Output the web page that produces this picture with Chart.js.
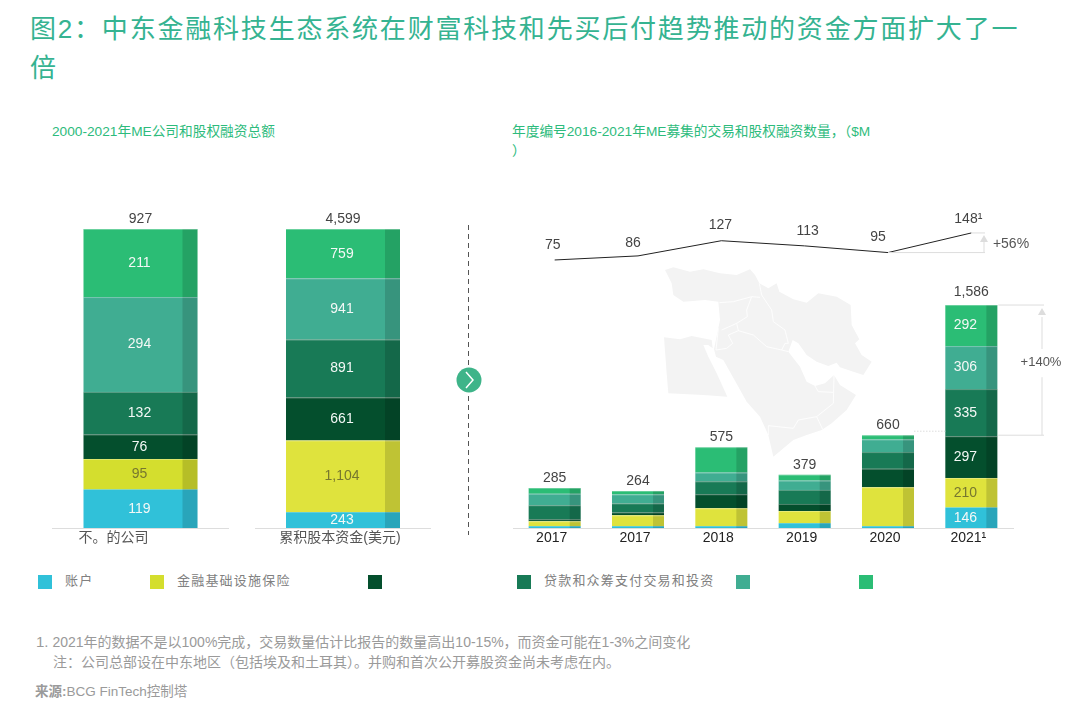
<!DOCTYPE html>
<html lang="zh">
<head>
<meta charset="utf-8">
<title>中东金融科技</title>
<script src="https://cdn.jsdelivr.net/npm/chart.js@4"></script>
<style>
html, body { margin: 0; padding: 0; background: #fff; }
body { position: relative; width: 1090px; height: 714px; overflow: hidden; font-family: "Liberation Sans", "Noto Sans CJK SC", sans-serif; }
.txt { position: absolute; white-space: nowrap; line-height: 1; }
canvas { position: absolute; }
#title { left: 30px; top: 10px; width: 1000px; white-space: normal; font-size: 26px; line-height: 39px; letter-spacing: 1.8px; color: #35b391; }
.sub { font-size: 13.7px; color: #2dbb7c; }
.note { font-size: 14px; color: #9a9a9a; }
.legend-box { position: absolute; top: 575px; width: 14px; height: 14px; }
.legend-txt { top: 574px; font-size: 13px; letter-spacing: 1.2px; color: #808080; }
</style>
</head>
<body>

<div class="txt" id="title">图2：中东金融科技生态系统在财富科技和先买后付趋势推动的资金方面扩大了一倍</div>
<div class="txt sub" style="left:52px;top:125px">2000-2021年ME公司和股权融资总额</div>
<div class="txt sub" style="left:512px;top:125px">年度编号2016-2021年ME募集的交易和股权融资数量，（$M</div>
<div class="txt sub" style="left:512px;top:144px">）</div>

<!-- map background -->
<svg style="position:absolute;left:640px;top:260px" width="320" height="210" viewBox="0 0 960 630">
  <path fill="#f3f3f3" d="M75 30 100 22 150 35 190 28 240 40 290 45 330 28 345 45 358 70 385 85 410 70 418 95 460 118 500 128 535 100 590 110 632 135 635 195 658 238 645 250 665 285 695 305 670 345 640 335 600 322 590 308 565 318 530 305 500 285 475 250 458 240 445 275 480 320 500 365 525 378 555 370 582 345 600 375 648 405 620 450 575 490 545 510 500 525 460 540 400 590 385 525 360 470 320 425 295 380 250 300 228 290 222 268 240 180 235 125 195 120 130 125 100 105 95 70Z"/>
  <path fill="#f3f3f3" d="M72 232 120 238 155 228 215 240 218 265 205 255 190 255 205 290 230 340 262 410 190 405 85 400 80 340Z"/>
  <g fill="none" stroke="#fff" stroke-width="2.5">
    <path d="M238 128 280 125 335 110 360 112"/>
    <path d="M358 70 365 105 395 150 400 185 435 210 445 250"/>
    <path d="M335 110 320 150 322 170 290 190 245 210"/>
    <path d="M290 190 295 212 265 225 278 250 260 265 228 270"/>
    <path d="M295 212 340 225 380 260 425 270 445 275"/>
    <path d="M425 270 435 250 445 250"/>
    <path d="M235 205 228 270"/>
    <path d="M385 525 385 497 460 505 475 480 530 470 580 430 582 345"/>
    <path d="M525 378 535 395 580 397"/>
    <path d="M530 470 548 508"/>
  </g>
</svg>

<!-- divider and chevron -->
<svg style="position:absolute;left:455px;top:220px" width="30" height="320">
  <line x1="13.5" y1="5" x2="13.5" y2="315" stroke="#555" stroke-dasharray="5 4"/>
  <circle cx="14" cy="160" r="12.5" fill="#3eb489"/>
  <path d="M11 152 18 160 11 168" fill="none" stroke="#fff" stroke-width="1.5"/>
</svg>

<canvas id="companies" width="177" height="360" style="left:52px;top:200px"></canvas>
<canvas id="capital" width="176" height="360" style="left:255px;top:200px"></canvas>
<canvas id="yearly" width="560" height="360" style="left:513px;top:200px"></canvas>

<div class="txt note" style="left:36px;top:634px"><span style="font-size:15px">1.</span> 2021年的数据不是以100%完成，交易数量估计比报告的数量高出10-15%，而资金可能在1-3%之间变化</div>
<div class="txt note" style="left:53px;top:655px">注：公司总部设在中东地区（包括埃及和土耳其）。并购和首次公开募股资金尚未考虑在内。</div>
<div class="txt note" style="left:35px;top:685px;font-size:13.5px"><b>来源:</b>BCG FinTech控制塔</div>

<script>
// ===== DATA =====
const seriesNames = ['账户', '金融基础设施保险', '', '贷款和众筹支付交易和投资', '', ''];

const companyLabels = ['不。的公司'];
const companyValues = [119, 95, 76, 132, 294, 211];
const companyTotal = 927;

const capitalLabels = ['累积股本资金(美元)'];
const capitalValues = [243, 1104, 661, 891, 941, 759];
const capitalTotal = 4599;

const yearLabels = ['2017', '2017', '2018', '2019', '2020', '2021¹'];
const accounts = [12, 12, 12, 33, 12, 146];
const infra = [36, 78, 128, 88, 278, 210];
const darkSeries = [14, 21, 100, 50, 131, 297];
const lending = [100, 64, 92, 100, 119, 335];
const tealSeries = [81, 64, 62, 66, 90, 306];
const greenSeries = [42, 25, 181, 42, 30, 292];
const yearTotals = ['285', '264', '575', '379', '660', '1,586'];
const dealCounts = [75, 86, 127, 113, 95, 148];
const dealLabels = ['75', '86', '127', '113', '95', '148¹'];

// ===== STYLES =====
const colors = ['#30c1d9', '#dfe33d', '#044f2d', '#187a56', '#40ad92', '#2bbd75'];
const legendLeft = [38, 150, 368, 517, 736, 859];
const dealLabelShift = [-2, -5, -1, 3, -10, -3];
const dealLabelRise = [8, 6, 9, 8, 8, 7];
const FONT = '"Liberation Sans", "Noto Sans CJK SC", sans-serif';

// legend
seriesNames.forEach((name, i) => {
    const box = document.createElement('div');
    box.className = 'legend-box';
    box.style.left = legendLeft[i] + 'px';
    box.style.background = i === 1 ? '#d4de2e' : colors[i];
    document.body.appendChild(box);
    if (name) {
        const label = document.createElement('div');
        label.className = 'txt legend-txt';
        label.style.left = (legendLeft[i] + 27) + 'px';
        label.textContent = name;
        document.body.appendChild(label);
    }
});

// darker strip, separators and value labels on the bars
const barDecor = {
    id: 'barDecor',
    afterDatasetsDraw(chart, args, opts) {
        const ctx = chart.ctx;
        ctx.save();
        ctx.font = '14px ' + FONT;
        ctx.textAlign = 'center';
        ctx.textBaseline = 'middle';
        chart.data.datasets.forEach((ds, d) => {
            if (ds.type === 'line') return;
            chart.getDatasetMeta(d).data.forEach((bar, i) => {
                const right = bar.x + bar.width / 2;
                const left = bar.x - bar.width / 2;
                ctx.fillStyle = 'rgba(0,0,0,0.14)';
                ctx.fillRect(right - opts.strip, bar.y, opts.strip, bar.base - bar.y);
                if (d > 0) {
                    ctx.fillStyle = 'rgba(255,255,255,0.3)';
                    ctx.fillRect(left, bar.y, bar.width, 1);
                }
                if (opts.valuesFrom <= i) {
                    ctx.fillStyle = d === 1 ? '#77772f' : '#f4f8f6';
                    ctx.fillText(ds.data[i].toLocaleString('en-US'), bar.x + opts.labelShift, (bar.y + bar.base) / 2);
                }
            });
        });
        // totals above the bars
        const topMeta = chart.getDatasetMeta(opts.topIndex);
        ctx.fillStyle = '#444';
        ctx.textBaseline = 'bottom';
        topMeta.data.forEach((bar, i) => {
            ctx.fillText(opts.totals[i], bar.x, bar.y - opts.totalGaps[i]);
        });
        ctx.restore();
    }
};

function makeDatasets(rows, yellow) {
    return rows.map((row, i) => ({
        label: seriesNames[i] || 'series' + i,
        data: row,
        backgroundColor: i === 1 && yellow ? yellow : colors[i],
        borderWidth: 0,
        stack: 'main',
        yAxisID: 'y'
    }));
}

function xAxis(labelOffset, color) {
    return {
        stacked: true,
        grid: { display: false, drawTicks: false },
        border: { color: '#ddd' },
        afterFit: axis => { axis.height = 32; },
        ticks: {
            color: color, padding: 2, labelOffset: labelOffset, maxRotation: 0, autoSkip: false,
            font: { family: FONT, size: 14 }
        }
    };
}

// the two cumulative columns, each filling the same height
function createColumn(canvasId, labels, values, total, labelOffset, barShare, yellow) {
    return new Chart(document.getElementById(canvasId), {
        type: 'bar',
        data: { labels: labels, datasets: makeDatasets(values.map(v => [v]), yellow) },
        options: {
            responsive: false,
            animation: false,
            layout: { padding: { top: 29 } },
            datasets: { bar: { barPercentage: barShare, categoryPercentage: 1 } },
            scales: {
                x: xAxis(labelOffset, '#555'),
                y: { display: false, stacked: true, min: 0, max: total }
            },
            plugins: {
                legend: { display: false },
                tooltip: { enabled: false },
                barDecor: { strip: 15, labelShift: -1, valuesFrom: 0, topIndex: 5, totals: [total.toLocaleString('en-US')], totalGaps: [3] }
            }
        },
        plugins: [barDecor]
    });
}

createColumn('companies', companyLabels, companyValues, companyTotal, -27, 114 / 177, '#d4de2e');
createColumn('capital', capitalLabels, capitalValues, capitalTotal, -3, 114 / 176);

// deal count labels and the growth brackets
const growthNotes = {
    id: 'growthNotes',
    afterDraw(chart) {
        const ctx = chart.ctx;
        const y = chart.scales.y;
        const y2 = chart.scales.y2;
        const lineMeta = chart.getDatasetMeta(6);
        const last = chart.getDatasetMeta(5).data[5];
        const originX = chart.canvas.offsetLeft;
        const px = x => x - originX;
        ctx.save();
        ctx.font = '14px ' + FONT;
        ctx.textAlign = 'center';
        ctx.textBaseline = 'bottom';
        ctx.fillStyle = '#444';
        lineMeta.data.forEach((pt, i) => {
            ctx.fillText(dealLabels[i], pt.x + dealLabelShift[i], pt.y - dealLabelRise[i]);
        });

        ctx.strokeStyle = '#ddd';
        ctx.fillStyle = '#ddd';
        ctx.lineWidth = 1;
        const seg = (x1, y1, x2, y2b) => {
            ctx.beginPath();
            ctx.moveTo(x1, y1);
            ctx.lineTo(x2, y2b);
            ctx.stroke();
        };
        const head = (x, tip) => {
            ctx.beginPath();
            ctx.moveTo(x, tip);
            ctx.lineTo(x - 4, tip + 7);
            ctx.lineTo(x + 4, tip + 7);
            ctx.fill();
        };

        // +56%
        const topCount = y2.getPixelForValue(dealCounts[5]);
        const lowCount = y2.getPixelForValue(dealCounts[4]);
        const countRight = px(985);
        seg(lineMeta.data[5].x, topCount, countRight, topCount);
        seg(lineMeta.data[4].x, lowCount, countRight, lowCount);
        seg(px(984), lowCount, px(984), topCount + 6);
        head(px(984), topCount + 2);

        // +140%
        const topBar = y.getPixelForValue(1586);
        const lowBar = y.getPixelForValue(660);
        const barRight = last.x + last.width / 2;
        const bracketX = px(1042);
        seg(barRight + 1, topBar, px(1044), topBar);
        seg(barRight + 1, lowBar, px(1044), lowBar);
        seg(bracketX, lowBar, bracketX, lowBar - 58);
        seg(bracketX, topBar + 12, bracketX, topBar + 44);
        head(bracketX, topBar + 3);

        // dotted link from the 2020 bar
        const bar2020 = chart.getDatasetMeta(5).data[4];
        ctx.setLineDash([1.5, 1.5]);
        seg(bar2020.x + bar2020.width / 2, lowBar - 4, last.x - last.width / 2, lowBar - 4);
        ctx.setLineDash([]);

        ctx.fillStyle = '#555';
        ctx.textBaseline = 'middle';
        ctx.fillText('+56%', px(1011), (topCount + lowCount) / 2 + 1);
        ctx.font = '13px ' + FONT;
        ctx.fillText('+140%', bracketX - 1, lowBar - 73);
        ctx.restore();
    }
};

new Chart(document.getElementById('yearly'), {
    type: 'bar',
    data: {
        labels: yearLabels,
        datasets: makeDatasets([accounts, infra, darkSeries, lending, tealSeries, greenSeries]).concat([{
            type: 'line',
            label: 'deals',
            data: dealCounts,
            yAxisID: 'y2',
            borderColor: '#222',
            borderWidth: 1,
            tension: 0,
            pointRadius: 0
        }])
    },
    options: {
        responsive: false,
        animation: false,
        layout: { padding: { right: 60 } },
        datasets: { bar: { barPercentage: 52 / 83.3, categoryPercentage: 1 } },
        scales: {
            x: xAxis(-3, '#222'),
            y: { display: false, stacked: true, min: 0, max: 2333 },
            y2: { display: false, min: -649, max: 237 }
        },
        plugins: {
            legend: { display: false },
            tooltip: { enabled: false },
            barDecor: { strip: 11, labelShift: -6, valuesFrom: 5, topIndex: 5, totals: yearTotals, totalGaps: [3, 3, 3, 3, 3, 6] }
        }
    },
    plugins: [barDecor, growthNotes]
});
</script>
</body>
</html>
